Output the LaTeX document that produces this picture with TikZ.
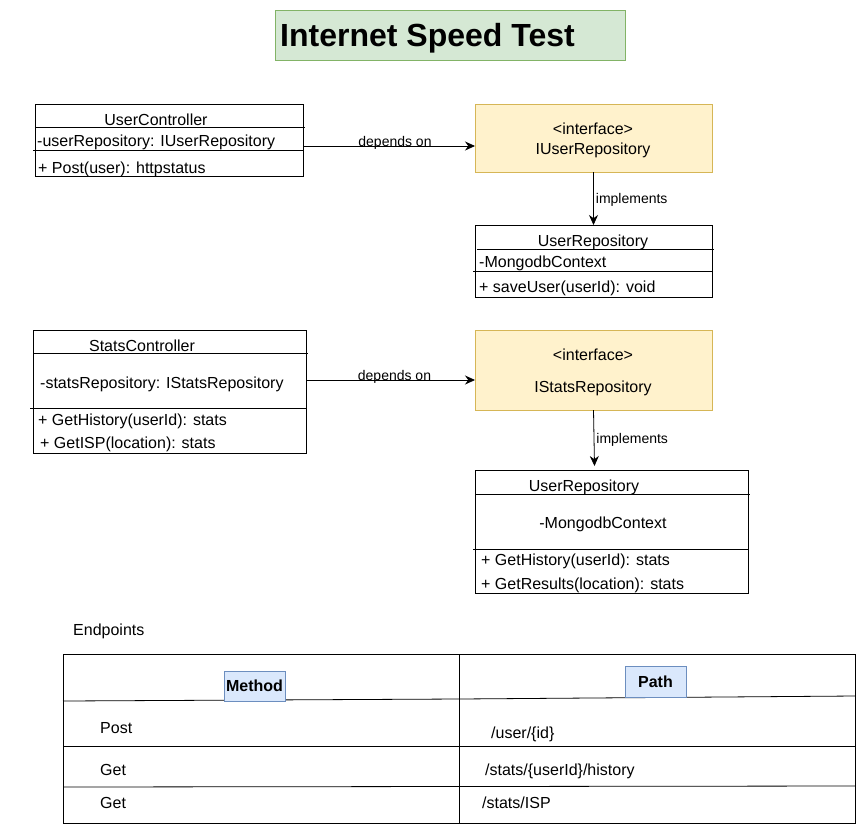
\documentclass[tikz,border=0pt]{standalone}
\usepackage{fontspec}
\setmainfont{Liberation Sans}
\usetikzlibrary{arrows.meta}
\definecolor{titlefill}{HTML}{D5E8D4}
\definecolor{titledraw}{HTML}{82B366}
\definecolor{ifacefill}{HTML}{FFF2CC}
\definecolor{ifacedraw}{HTML}{D6B656}
\definecolor{hdrfill}{HTML}{DAE8FC}
\definecolor{hdrdraw}{HTML}{6C8EBF}
\tikzset{
  clsbox/.style={draw, line width=0.8pt, anchor=north west, inner sep=0pt, outer sep=0pt},
  ifacebox/.style={clsbox, fill=ifacefill, draw=ifacedraw},
  lbl/.style={inner sep=0pt, anchor=west, text height=0.72em, text depth=0pt, yshift=-2.5pt},
  ctr/.style={lbl, anchor=center},
  small/.style={font=\fontsize{14}{17}\selectfont, inner sep=0pt, text height=0.72em, text depth=0pt},
  sep/.style={line width=0.8pt},
  dep/.style={-{Stealth[length=10pt,width=9pt]}, line width=0.8pt},
  hdr/.style={draw=hdrdraw, fill=hdrfill, line width=0.8pt, inner sep=0pt, font=\bfseries\fontsize{16}{19}\selectfont}
}
\begin{document}
\begin{tikzpicture}[x=1pt, y=-1pt, every node/.style={font=\fontsize{16}{19}\selectfont}]
  \useasboundingbox (0,0) rectangle (856,825);
  % title
  \node[clsbox, draw=titledraw, fill=titlefill, minimum width=350pt, minimum height=50pt] (ttlbox) at (275,10) {};
  \node[lbl, yshift=0pt, font=\bfseries\fontsize{32}{38}\selectfont] (ttl) at (280,40) {Internet Speed Test};

  % user part
  \node[clsbox, minimum width=268pt, minimum height=72pt] (uc) at (35,104) {};
  \draw[sep] (35,127) -- (305,127);
  \draw[sep] (33,150) -- (303,150);
  \node[ctr] (ucname) at (156,119) {UserController};
  \node[lbl] (ucfield) at (37,140) {-userRepository: IUserRepository};
  \node[lbl] (ucop) at (38,167) {+ Post(user): httpstatus};

  \node[ifacebox, minimum width=237pt, minimum height=68pt] (iur) at (475,104) {};
  \node[ctr] (iurst) at (593,128) {<interface>};
  \node[ctr] (iurname) at (593,148) {IUserRepository};

  \node[clsbox, minimum width=237pt, minimum height=72pt] (ur) at (475,225) {};
  \draw[sep] (477,249) -- (714,249);
  \draw[sep] (473,271) -- (712,271);
  \node[ctr] (urname) at (593,240) {UserRepository};
  \node[lbl] (urfield) at (479,261) {-MongodbContext};
  \node[lbl] (urop) at (479,286) {+ saveUser(userId): void};

  \coordinate (ucdep) at (303,146);
  \draw[dep] (ucdep) -- (ucdep -| iur.west) node[midway, small, xshift=6pt, yshift=3pt] {depends on};
  \draw[dep] (iur.south) -- (ur.north) node[midway, small, anchor=west, xshift=2pt, yshift=-1.5pt] {implements};

  % stats part
  \node[clsbox, minimum width=273pt, minimum height=123pt] (sc) at (33,330) {};
  \draw[sep] (33,353) -- (308,353);
  \draw[sep] (30,408) -- (306,408);
  \node[ctr] (scname) at (142,345) {StatsController};
  \node[lbl] (scfield) at (40,382) {-statsRepository: IStatsRepository};
  \node[lbl] (scop1) at (38,419) {+ GetHistory(userId): stats};
  \node[lbl] (scop2) at (40,442) {+ GetISP(location): stats};

  \node[ifacebox, minimum width=237pt, minimum height=80pt] (isr) at (475,330) {};
  \node[ctr] (isrst) at (593,354) {<interface>};
  \node[ctr] (isrname) at (593,386) {IStatsRepository};

  \node[clsbox, minimum width=273pt, minimum height=123pt] (sr) at (475,470) {};
  \draw[sep] (475,494) -- (750,494);
  \draw[sep] (473,549) -- (748,549);
  \node[ctr] (srname) at (584,485) {UserRepository};
  \node[ctr] (srfield) at (603,522) {-MongodbContext};
  \node[lbl] (srop1) at (481,559) {+ GetHistory(userId): stats};
  \node[lbl] (srop2) at (481,583) {+ GetResults(location): stats};

  \coordinate (scdep) at (306,380);
  \coordinate (srtop) at (594.5,466);
  \draw[dep] (scdep) -- (scdep -| isr.west) node[midway, small, xshift=4pt, yshift=3pt] {depends on};
  \draw[dep] (isr.south) -- (srtop) node[midway, small, anchor=west, xshift=2pt, yshift=-1.5pt] {implements};

  % endpoints table
  \node[lbl] (eptitle) at (73,629) {Endpoints};
  \node[clsbox, minimum width=792pt, minimum height=169pt] (ep) at (63,654) {};
  \draw[sep] (459,654) -- (459,823);
  \draw[sep] (63,701) -- (459,699) -- (855,696);
  \draw[sep] (63,746) -- (855,746);
  \draw[sep] (63,787) -- (855,786);
  \node[hdr, minimum width=61pt, minimum height=30pt] (mhdr) at (254.5,686) {Method};
  \node[hdr, minimum width=61pt, minimum height=31pt] (phdr) at (655.5,681.5) {Path};
  \node[lbl] (r1m) at (100,727) {Post};
  \node[lbl] (r1p) at (491,732) {/user/\{id\}};
  \node[lbl] (r2m) at (100,769) {Get};
  \node[lbl] (r2p) at (485,769) {/stats/\{userId\}/history};
  \node[lbl] (r3m) at (100,802) {Get};
  \node[lbl] (r3p) at (482,802) {/stats/ISP};
\end{tikzpicture}
\end{document}
